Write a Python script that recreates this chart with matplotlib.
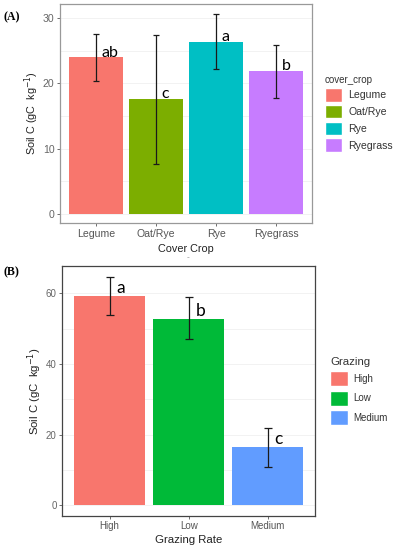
import matplotlib
matplotlib.use('Agg')
from matplotlib import pyplot as plt
from matplotlib.patches import Patch
import numpy as np

# panel A data
crops = ['Legume', 'Oat/Rye', 'Rye', 'Ryegrass']
crop_soil_c = [24.0, 17.6, 26.4, 21.9]
crop_err_lo = [20.4, 7.7, 22.2, 17.8]
crop_err_hi = [27.6, 27.4, 30.6, 25.9]
crop_letters = ['ab', 'c', 'a', 'b']
crop_colors = ['#F8766D', '#7CAE00', '#00BFC4', '#C77CFF']
crop_yticks = [0, 10, 20, 30]

# panel B data
grazing = ['High', 'Low', 'Medium']
graz_soil_c = [59.3, 52.9, 16.5]
graz_err_lo = [54.0, 47.0, 10.9]
graz_err_hi = [64.6, 58.9, 21.8]
graz_letters = ['a', 'b', 'c']
graz_colors = ['#F8766D', '#00BA38', '#619CFF']
graz_yticks = [0, 20, 40, 60]

plt.rcParams['font.family'] = ['Liberation Sans', 'DejaVu Sans']

fig = plt.figure(figsize=(3.94, 5.5), dpi=100)
W, H = 394.0, 550.0


def panel(rect, cats, vals, lo, hi, letters, colors, yticks, ylim, frame_col,
          xlabel, leg_title, leg_pos, tick_fs, lab_fs, let_fs, let_off, leg_fs, title_fs,
          key_w, key_h, spacing, cap, xpad, ypad):
    l, t, r, b = rect
    ax = fig.add_axes([l / W, 1 - b / H, (r - l) / W, (b - t) / H])
    x = np.arange(len(cats))
    # faint grid (major + minor)
    step = yticks[1] - yticks[0]
    for g in np.arange(0, yticks[-1] + step, step / 2.0):
        ax.axhline(g, color='#F0F0F0', lw=0.6, zorder=0)
    ax.bar(x, vals, width=0.9, color=colors, zorder=2)
    v = np.array(vals)
    yerr = [v - np.array(lo), np.array(hi) - v]
    ax.errorbar(x, vals, yerr=yerr, fmt='none', ecolor='#1a1a1a', elinewidth=0.9,
                capsize=cap, capthick=0.9, zorder=3)
    for i, s in enumerate(letters):
        ax.annotate(s, (x[i], vals[i]), xytext=let_off, textcoords='offset points',
                    ha='left', va='baseline', fontsize=let_fs, family=['Lato', 'DejaVu Sans'],
                    color='black', zorder=4)
    ax.set_xlim(-0.6, len(cats) - 0.4)
    ax.set_ylim(*ylim)
    ax.set_xticks(x)
    ax.set_xticklabels(cats)
    ax.set_yticks(yticks)
    ax.tick_params(labelsize=tick_fs, colors='#555555', length=2.5, width=0.6, pad=1.5)
    ax.tick_params(axis='y', labelcolor='#666666')
    ax.tick_params(axis='x', labelcolor='#555555')
    for sp in ax.spines.values():
        sp.set_color(frame_col)
        sp.set_linewidth(0.9)
    ax.set_xlabel(xlabel, fontsize=lab_fs, color='#222222', labelpad=xpad)
    ax.set_ylabel('Soil C (gC  kg$^{-1}$)', fontsize=lab_fs, color='#222222', labelpad=ypad)
    handles = [Patch(facecolor=c, edgecolor='white', label=n) for c, n in zip(colors, cats)]
    leg = fig.legend(handles=handles, title=leg_title, loc='upper left',
                     bbox_to_anchor=(leg_pos[0] / W, 1 - leg_pos[1] / H),
                     frameon=False, fontsize=leg_fs, title_fontsize=title_fs,
                     handlelength=key_w, handleheight=key_h, handletextpad=0.6,
                     labelspacing=spacing, borderpad=0, borderaxespad=0)
    leg._legend_box.align = 'left'
    for tx in leg.get_texts():
        tx.set_color('#333333')
    leg.get_title().set_color('#333333')
    return ax


panel((60, 4, 312, 223), crops, crop_soil_c, crop_err_lo, crop_err_hi, crop_letters,
      crop_colors, crop_yticks, (-1.43, 32.2), '#999999', 'Cover Crop', 'cover_crop',
      (325, 75), 7.6, 7.8, 11.5, (4, 0.5), 7.6, 7.0, 1.6, 1.6, 0.3, 2.5, 4, 1)

panel((62.3, 266, 315, 515.7), grazing, graz_soil_c, graz_err_lo, graz_err_hi, graz_letters,
      graz_colors, graz_yticks, (-3.03, 67.8), '#444444', 'Grazing Rate', 'Grazing',
      (330, 357), 7.0, 8.2, 12.5, (5, 2), 7.0, 8.2, 1.8, 2.0, 0.45, 3.0, 3, 1)

fig.text(188 / W, 1 - 258 / H, '-', fontsize=6, color='#888888', ha='center', va='center')
fig.text(3 / W, 1 - 17 / H, '(A)', fontsize=8.5, fontweight='bold', family=['Liberation Serif', 'DejaVu Serif'],
         ha='left', va='center')
fig.text(4 / W, 1 - 272 / H, '(B)', fontsize=8.5, fontweight='bold', family=['Liberation Serif', 'DejaVu Serif'],
         ha='left', va='center')

fig.savefig('out.png', dpi=100)
